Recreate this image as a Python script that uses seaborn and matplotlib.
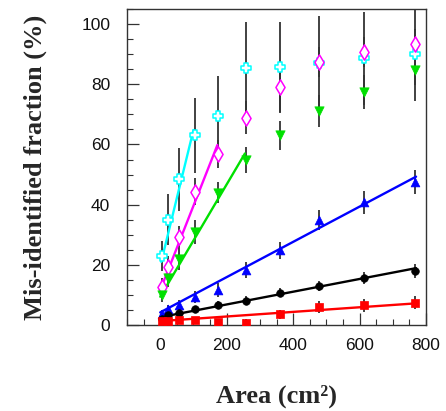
import numpy as np
import pandas as pd
import matplotlib
matplotlib.use("Agg")
import matplotlib.pyplot as plt
import seaborn as sns
from matplotlib.ticker import MultipleLocator

# measured points (area in cm^2, misidentified fraction in %)
area = [5, 22, 55, 106, 174, 258, 360, 478, 612, 766]

cyan_y = [23.0, 35.0, 48.4, 63.0, 69.4, 85.3, 85.6, 87.2, 88.6, 89.9]
cyan_err = [5.0, 8.4, 10.4, 12.5, 13.3, 15.5, 15.0, 15.5, 15.4, 15.5]
magenta_y = [12.7, 19.4, 29.1, 44.3, 56.8, 68.9, 79.2, 87.4, 90.8, 93.4]
magenta_err = [3.0, 3.5, 3.7, 4.5, 4.7, 5.5, 8.5, 5.0, 5.0, 5.0]
green_y = [10.0, 15.5, 21.8, 31.0, 44.0, 54.8, 63.1, 71.2, 77.4, 84.6]
green_err = [2.5, 3.0, 3.5, 4.0, 3.6, 4.4, 4.8, 5.3, 5.7, 5.0]
blue_y = [3.7, 5.2, 6.6, 9.4, 11.6, 18.3, 24.9, 34.9, 40.8, 47.5]
blue_err = [1.2, 1.5, 1.7, 2.0, 2.3, 2.7, 2.8, 3.4, 3.8, 4.1]
black_y = [1.9, 3.3, 3.9, 5.2, 6.6, 8.1, 10.7, 13.0, 15.7, 18.0]
black_err = [0.8, 1.0, 1.0, 1.2, 1.3, 1.4, 1.5, 1.7, 2.0, 2.3]
red_y = [1.2, 1.4, 1.7, 1.7, 1.1, 0.8, 3.6, 6.1, 6.6, 7.4]
red_err = [0.8, 0.8, 0.9, 1.0, 1.0, 1.2, 1.5, 2.0, 2.2, 2.2]

# straight-line fits as drawn (start/end)
fit_x_start = [3, 0, 0, 0, 0, 0]
fit_x_end = [100, 172, 255, 770, 770, 770]
fit_y_start = [21.0, 11.6, 9.4, 4.2, 2.6, 1.3]
fit_y_end = [64.8, 59.8, 57.0, 49.3, 18.9, 7.2]

names = ["cyan", "magenta", "green", "blue", "black", "red"]
colors = ["#00ffff", "#ff00ff", "#00e000", "#0000ff", "#000000", "#ff0000"]
markers = ["P", "d", "v", "^", "o", "s"]
open_marker = [True, True, False, False, False, False]
sizes = [62, 60, 45, 40, 30, 26]

series_y = [cyan_y, magenta_y, green_y, blue_y, black_y, red_y]
series_err = [cyan_err, magenta_err, green_err, blue_err, black_err, red_err]

sns.set_style("ticks")

fig = plt.figure(figsize=(4.46, 4.11), dpi=100)
ax = fig.add_axes([0.2848, 0.2092, 0.9552 - 0.2848, 0.978 - 0.2092])

# error bars first, underneath everything
for ys, errs in zip(series_y, series_err):
    ax.errorbar(area, ys, yerr=errs, fmt="none", ecolor="#333333",
                elinewidth=1.3, capsize=0, zorder=1)

fit_df = pd.DataFrame({
    "series": names * 2,
    "x": fit_x_start + fit_x_end,
    "y": fit_y_start + fit_y_end,
})
sns.lineplot(data=fit_df, x="x", y="y", hue="series", hue_order=names,
             palette=colors, linewidth=1.7, legend=False, ax=ax, zorder=2)

for name, ys, col, mk, op, sz in zip(names, series_y, colors, markers,
                                      open_marker, sizes):
    df = pd.DataFrame({"area": area, "frac": ys})
    if op:
        sns.scatterplot(data=df, x="area", y="frac", marker=mk, s=sz,
                        color="white", edgecolor=col, linewidth=1.1,
                        ax=ax, zorder=3)
    else:
        sns.scatterplot(data=df, x="area", y="frac", marker=mk, s=sz,
                        color=col, edgecolor=col, linewidth=0.5,
                        ax=ax, zorder=3)

ax.set_xlim(-100, 800)
ax.set_ylim(0, 105)
ax.xaxis.set_major_locator(MultipleLocator(200))
ax.xaxis.set_minor_locator(MultipleLocator(50))
ax.yaxis.set_major_locator(MultipleLocator(20))
ax.yaxis.set_minor_locator(MultipleLocator(5))
ax.tick_params(which="major", direction="in", length=8.5, width=0.9,
               labelsize=12.5, colors="#333333", labelcolor="#111111")
ax.tick_params(axis="y", which="major", pad=12)
ax.tick_params(axis="x", which="major", pad=9)
ax.tick_params(which="minor", direction="in", length=4.3, width=0.8,
               colors="#333333")
for lab in ax.get_xticklabels() + ax.get_yticklabels():
    lab.set_family(["Liberation Sans", "DejaVu Sans"])
for sp in ax.spines.values():
    sp.set_color("#333333")
    sp.set_linewidth(1.0)

label_font = dict(family=["Liberation Serif", "DejaVu Serif"],
                  weight="bold", size=19)
ax.set_xlabel("Area (cm²)", labelpad=23, **label_font)
ax.set_ylabel("Mis-identified fraction (%)", labelpad=25, **label_font)

fig.savefig("out.png", dpi=100)
